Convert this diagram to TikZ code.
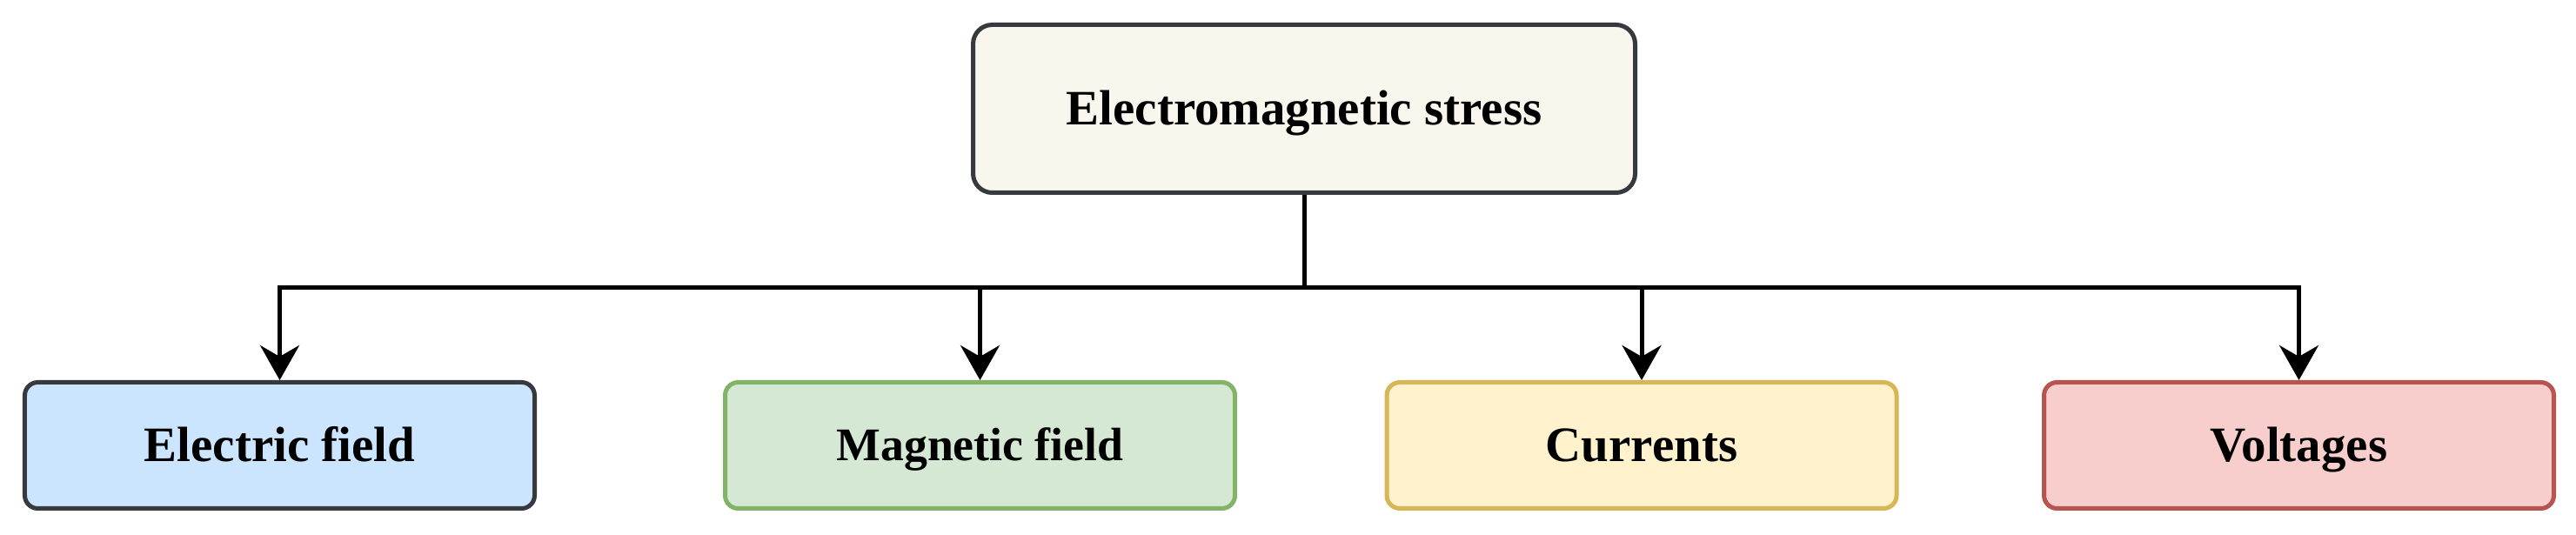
\documentclass[tikz,border=0pt]{standalone}
\usepackage{fontspec}
\setmainfont{Liberation Serif}
\usetikzlibrary{arrows.meta}

\definecolor{topfill}{HTML}{F9F7ED}
\definecolor{darkline}{HTML}{36393D}
\definecolor{bluefill}{HTML}{CCE5FF}
\definecolor{greenfill}{HTML}{D5E8D4}
\definecolor{greenline}{HTML}{82B366}
\definecolor{yellowfill}{HTML}{FFF2CC}
\definecolor{yellowline}{HTML}{D6B656}
\definecolor{redfill}{HTML}{F8CECC}
\definecolor{redline}{HTML}{B85450}

\tikzset{
    block/.style={draw, line width=0.05cm, rounded corners=0.15cm, inner sep=0pt,
        minimum width=5.86cm, minimum height=1.45cm, text height=0.37cm, text depth=0pt,
        font=\bfseries\fontsize{16.2pt}{19pt}\selectfont},
    rootblock/.style={block, rounded corners=0.22cm, minimum width=7.61cm, minimum height=1.93cm},
    link/.style={line width=0.05cm, -{Stealth[length=0.4cm, width=0.45cm, inset=0.13cm]}}
}

\begin{document}
\begin{tikzpicture}
        \useasboundingbox (0,0) rectangle (29.61,6.15);

        \node [rootblock, draw=darkline, fill=topfill] (stress) at (14.99,4.90) {Electromagnetic stress};

        \node [block, draw=darkline, fill=bluefill] (efield) at (3.215,1.03) {Electric field};
        \node [block, draw=greenline, fill=greenfill, text height=0.35cm, font=\bfseries\fontsize{15.3pt}{18pt}\selectfont] (mfield) at (11.265,1.03) {Magnetic field};
        \node [block, draw=yellowline, fill=yellowfill] (currents) at (18.87,1.03) {Currents};
        \node [block, draw=redline, fill=redfill] (voltages) at (26.425,1.03) {Voltages};

        \coordinate (split) at (14.99,2.84);
        \draw [line width=0.05cm] (stress.south)--(split);
        \draw [link] (split) -| (efield.north);
        \draw [link] (split) -| (mfield.north);
        \draw [link] (split) -| (currents.north);
        \draw [link] (split) -| (voltages.north);
    \end{tikzpicture}
\end{document}
